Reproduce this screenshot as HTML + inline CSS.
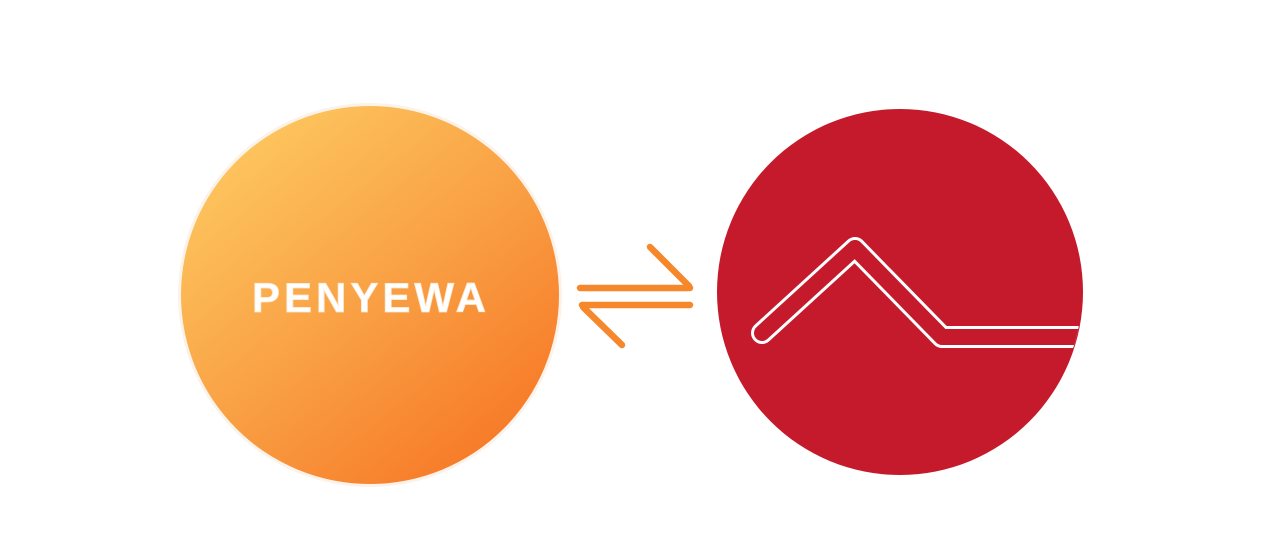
<!DOCTYPE html>
<html><head><meta charset="utf-8"><style>
html,body{margin:0;padding:0;background:#fff;width:1280px;height:558px;overflow:hidden}
</style></head><body>
<svg width="1280" height="558" viewBox="0 0 1280 558">
<defs>
<linearGradient id="og" x1="0.2" y1="0.1" x2="0.85" y2="0.9">
<stop offset="0" stop-color="#fdc35c"/><stop offset="0.5" stop-color="#f9a044"/><stop offset="1" stop-color="#f77a28"/>
</linearGradient>
<clipPath id="rc"><circle cx="900" cy="292" r="182"/></clipPath>
</defs>
<g>
<circle cx="370" cy="295" r="192" fill="#fbf3ea"/>
<circle cx="370" cy="295" r="189" fill="url(#og)"/>
<text x="371" y="312" text-anchor="middle" font-family="Liberation Sans, sans-serif" font-size="42" font-weight="bold" letter-spacing="4" fill="#fff" stroke="#fde6cc" stroke-width="0.8">PENYEWA</text>
</g>
<g stroke="#f7872b" stroke-width="6.5" stroke-linecap="round" fill="none">
<path d="M580 288 L690 288 M650 247 L689 286"/>
<path d="M690 305 L582 305 M583 307 L622 345"/>
</g>
<g>
<circle cx="900" cy="292" r="183" fill="#c41a2c"/>
<g clip-path="url(#rc)" fill="none" stroke-linecap="round" stroke-linejoin="round">
<path d="M762 333 L855 248 L942 337 L1100 337" stroke="#fff" stroke-width="22"/>
<path d="M762 333 L855 248 L942 337 L1100 337" stroke="#c41a2c" stroke-width="16"/>
</g>
</g>
</svg>
</body></html>
